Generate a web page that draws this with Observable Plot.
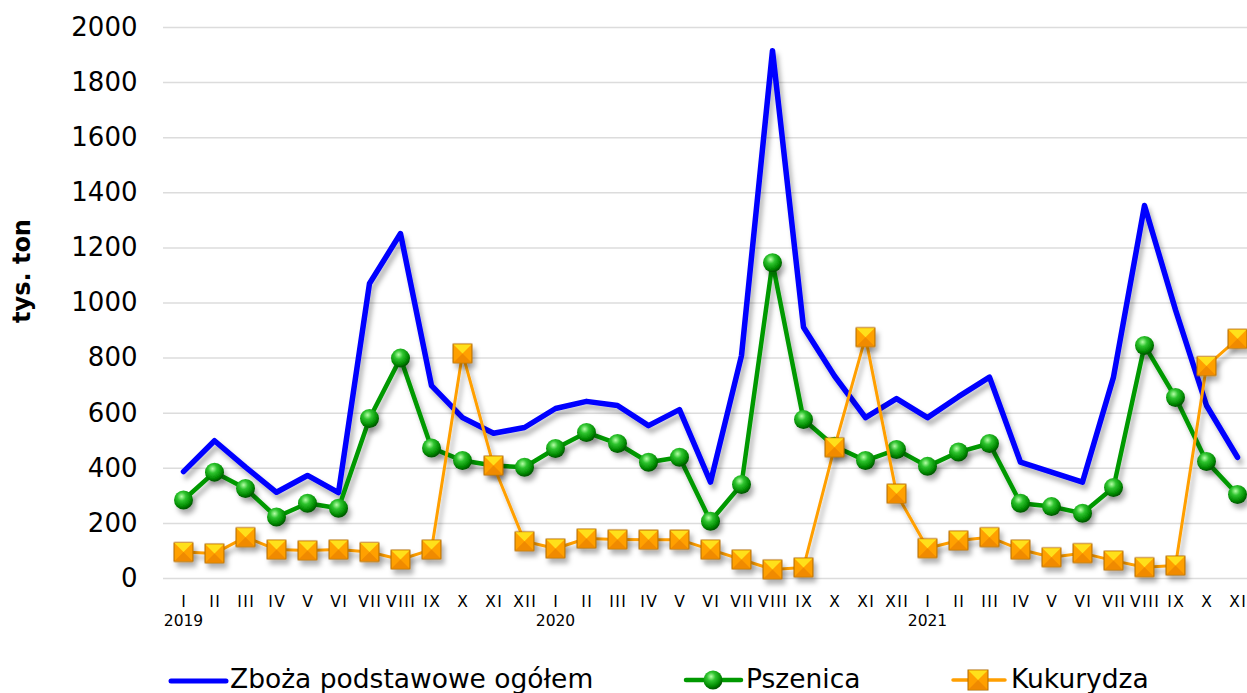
<!DOCTYPE html>
<html><head><meta charset="utf-8">
<script src="https://cdn.jsdelivr.net/npm/d3@7"></script>
<script src="https://cdn.jsdelivr.net/npm/@observablehq/plot@0.6"></script>
<style>
html,body{margin:0;padding:0;background:#fff;overflow:hidden;width:1247px;height:693px;}
#wrap{position:relative;width:1247px;height:693px;overflow:hidden;font-family:"DejaVu Sans",Verdana,sans-serif;}
#chart{position:absolute;left:0;top:0;width:1260px;height:640px;}
#chart svg{max-width:none !important;width:1260px !important;height:640px !important;}
.legtxt{position:absolute;top:664px;font-size:26.5px;line-height:30px;color:#000;white-space:nowrap;}
.legicon{position:absolute;top:668px;}
#ylab{position:absolute;left:22px;top:271px;transform:translate(-50%,-50%) rotate(-90deg);font-weight:bold;font-size:24px;white-space:nowrap;color:#000;}
</style>
</head><body>
<div id="wrap">
  <div id="chart"></div>
  <div id="ylab">tys. ton</div>
  <svg class="legicon" style="left:160px" width="80" height="26"><line x1="11" y1="13" x2="66" y2="13" stroke="#0000ff" stroke-width="5" stroke-linecap="round"/></svg>
  <div class="legtxt" style="left:230px">Zboża podstawowe ogółem</div>
  <svg class="legicon" style="left:680px" width="66" height="26">
    <defs><radialGradient id="lsph" cx="40%" cy="32%" r="65%"><stop offset="0" stop-color="#b6ffa8"/><stop offset="0.35" stop-color="#2fc42f"/><stop offset="0.8" stop-color="#008a00"/><stop offset="1" stop-color="#005a00"/></radialGradient></defs>
    <line x1="6" y1="12" x2="61" y2="12" stroke="#009900" stroke-width="4.5" stroke-linecap="round"/>
    <circle cx="33" cy="12" r="9.5" fill="url(#lsph)"/>
  </svg>
  <div class="legtxt" style="left:746px">Pszenica</div>
  <svg class="legicon" style="left:948px" width="62" height="26">
    <line x1="5" y1="12" x2="57" y2="12" stroke="#ff9f00" stroke-width="3.5" stroke-linecap="round"/>
    <rect x="20" y="2" width="20" height="20" fill="#ffa000" stroke="#b06a00" stroke-width="1"/>
    <path d="M20.5,2.5 L39.5,2.5 L30,12 Z" fill="#ffe01a"/>
    <path d="M20.5,21.5 L39.5,21.5 L30,12 Z" fill="#f08a00"/>
  </svg>
  <div class="legtxt" style="left:1011px">Kukurydza</div>
</div>
<script>
const months = ["I","II","III","IV","V","VI","VII","VIII","IX","X","XI","XII",
                "I","II","III","IV","V","VI","VII","VIII","IX","X","XI","XII",
                "I","II","III","IV","V","VI","VII","VIII","IX","X","XI"];
const yearLabels = ["2019","2020","2021"];
const yearIndex = [0,12,24];
const yTicks = [0,200,400,600,800,1000,1200,1400,1600,1800,2000];

const zboza = [388,500,404,313,374,312,1071,1252,700,584,527,548,
               617,643,628,555,613,350,809,1916,912,735,584,653,
               584,660,731,422,386,350,731,1354,975,628,440];
const pszenica = [285,386,327,223,273,255,581,800,474,428,410,404,
                  472,530,490,422,440,208,341,1146,577,480,428,468,
                  407,459,490,273,261,237,330,846,657,425,305];
const kukurydza = [96,91,150,105,102,105,96,69,105,817,410,135,
                   109,145,142,141,141,105,69,33,40,476,876,308,
                   110,138,150,105,77,92,65,41,47,771,870];

const idx = d3.range(months.length);
const years = yearLabels.map((t,k)=>({i: yearIndex[k], t}));

const half = size => Math.sqrt(size/Math.PI);
const sqSym = {draw(ctx,size){const h=half(size);ctx.moveTo(-h,-h);ctx.lineTo(h,-h);ctx.lineTo(h,h);ctx.lineTo(-h,h);ctx.closePath();}};
const topSym = {draw(ctx,size){const h=half(size)-0.5;ctx.moveTo(-h,-h);ctx.lineTo(h,-h);ctx.lineTo(0,0);ctx.closePath();}};
const botSym = {draw(ctx,size){const h=half(size)-0.5;ctx.moveTo(-h,h);ctx.lineTo(h,h);ctx.lineTo(0,0);ctx.closePath();}};

const chart = Plot.plot({
  width: 1260, height: 640,
  marginLeft: 163, marginRight: 3.25, marginTop: 27, marginBottom: 62,
  x: {type: "point", domain: idx, padding: 0.5},
  y: {domain: [0, 2000]},
  style: {fontFamily: "DejaVu Sans, Verdana, sans-serif", background: "transparent", color: "#000"},
  marks: [
    Plot.gridY(yTicks, {stroke: "#dcdcdc", strokeOpacity: 1, strokeWidth: 1.5}),
    Plot.axisY(yTicks, {tickSize: 0, tickPadding: 26, fontSize: 26, label: null, tickFormat: d => String(d)}),
    Plot.axisX(idx, {tickSize: 0, tickPadding: 17, fontSize: 15.5, tickFormat: i => months[i], label: null}),
    Plot.text(years, {x: "i", y: 0, text: "t", dy: 42.5, fontSize: 15.5}),
    Plot.line(idx, {x: i => i, y: i => zboza[i], stroke: "#0000ff", strokeWidth: 5.5}),
    Plot.line(idx, {x: i => i, y: i => pszenica[i], stroke: "#009900", strokeWidth: 4.5}),
    Plot.dot(idx, {x: i => i, y: i => pszenica[i], r: 9.5, fill: "#00a000"}),
    Plot.line(idx, {x: i => i, y: i => kukurydza[i], stroke: "#ff9f00", strokeWidth: 3}),
    Plot.dot(idx, {x: i => i, y: i => kukurydza[i], r: 9.5, symbol: sqSym, fill: "#ffa000", stroke: "#b06a00", strokeWidth: 1}),
    Plot.dot(idx, {x: i => i, y: i => kukurydza[i], r: 9.5, symbol: topSym, fill: "#ffe01a"}),
    Plot.dot(idx, {x: i => i, y: i => kukurydza[i], r: 9.5, symbol: botSym, fill: "#f08a00"})
  ]
});
document.getElementById("chart").appendChild(chart);

const svg = d3.select(chart);
const defs = svg.insert("defs", ":first-child");
const g = defs.append("radialGradient").attr("id","sph").attr("cx","40%").attr("cy","32%").attr("r","65%");
[["0","#b6ffa8"],["0.35","#2fc42f"],["0.8","#008a00"],["1","#005a00"]].forEach(([o,c]) => g.append("stop").attr("offset",o).attr("stop-color",c));
const f = defs.append("filter").attr("id","sh").attr("x","-20%").attr("y","-20%").attr("width","140%").attr("height","140%");
f.append("feDropShadow").attr("dx",3).attr("dy",5).attr("stdDeviation",2.5).attr("flood-color","#000").attr("flood-opacity",0.3);
svg.selectAll('g[aria-label="line"]').attr("filter","url(#sh)");
const dots = svg.selectAll('g[aria-label="dot"]').nodes();
d3.select(dots[0]).attr("filter","url(#sh)").selectAll("circle").attr("fill","url(#sph)");
d3.select(dots[1]).attr("filter","url(#sh)");
svg.selectAll('g[aria-label="x-axis tick label"] text').style("letter-spacing","1.5px").attr("dx","0.75px");
</script>
</body></html>
